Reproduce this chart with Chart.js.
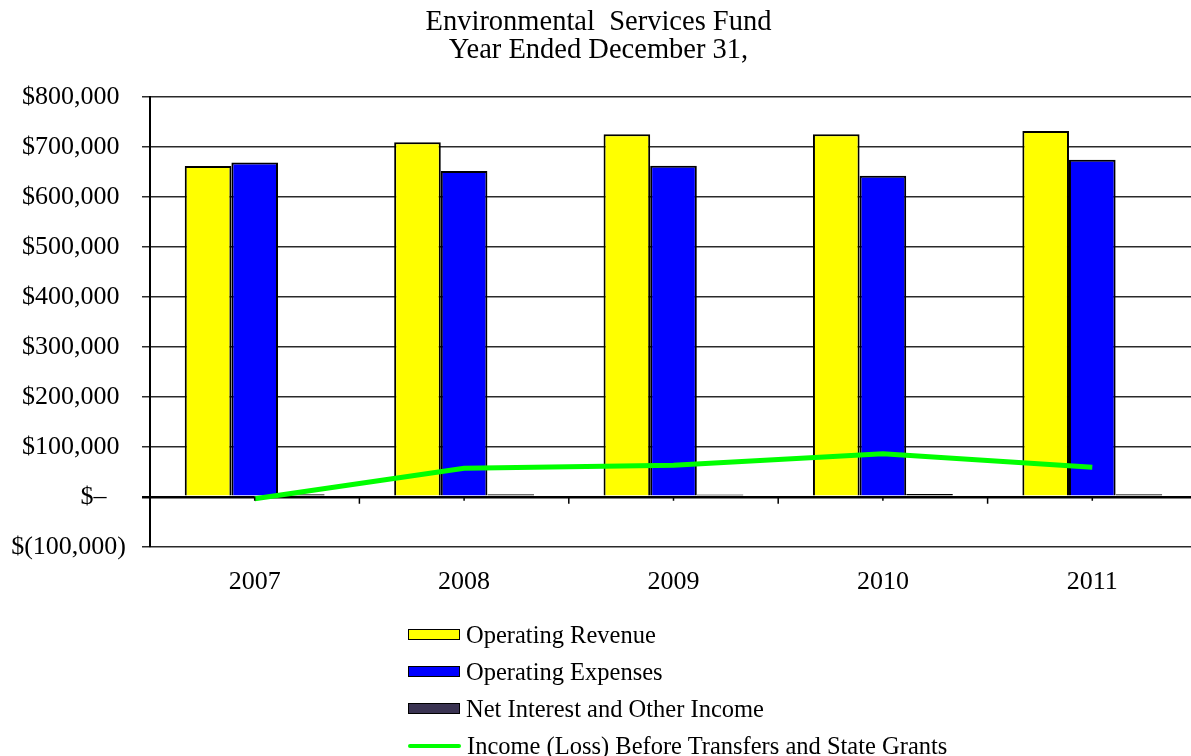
<!DOCTYPE html>
<html>
<head>
<meta charset="utf-8">
<script src="https://cdn.jsdelivr.net/npm/chart.js@4.4.1/dist/chart.umd.min.js"></script>
<style>
  html, body { margin: 0; padding: 0; background: #fff; overflow: hidden; }
  #wrap { position: relative; width: 1191px; height: 756px; overflow: hidden; }
  #fundChart { position: absolute; left: 0; top: 0; }
  #legend { position: absolute; left: 408px; top: 616px; font-family: 'Liberation Serif', 'Times New Roman', serif; font-size: 24.5px; color: #000; }
  .row { height: 37px; display: flex; align-items: center; white-space: nowrap; }
  .swatch { width: 50px; height: 9px; border: 1.5px solid #000; margin-right: 6px; }
  .stroke { width: 53px; height: 4px; border-radius: 2px; margin-right: 6px; }
</style>
</head>
<body>
<div id="wrap">
  <canvas id="fundChart" width="1200" height="756"></canvas>
  <div id="legend"></div>
</div>
<script>
var years = ['2007', '2008', '2009', '2010', '2011'];
var operatingRevenue = [661500, 709300, 725200, 725200, 731800];
var operatingExpenses = [668900, 651500, 662100, 642200, 674000];
var netInterestIncome = [5200, 5000, 4800, 5400, 4900];
var incomeBeforeTransfers = [-4000, 57000, 63000, 86300, 59200];
var yMin = -100000, yMax = 800000, yStep = 100000;

var serif = "'Liberation Serif', 'Times New Roman', serif";
var nbsp = '\u00A0';

function money(v) {
  if (v === 0) return '$\u2013' + nbsp + nbsp + nbsp;
  var s = Math.abs(v).toLocaleString('en-US');
  return v < 0 ? '$(' + s + ')' : '$' + s + nbsp;
}

// small tick marks hanging under the zero line
var zeroTicks = {
  id: 'zeroTicks',
  afterDatasetsDraw: function(chart) {
    var x = chart.scales.x, y = chart.scales.y, ctx = chart.ctx;
    var y0 = y.getPixelForValue(0);
    var half = (x.getPixelForTick(1) - x.getPixelForTick(0)) / 2;
    ctx.save();
    ctx.strokeStyle = '#000';
    ctx.lineWidth = 1.5;
    ctx.beginPath();
    years.forEach(function(_, i) {
      var c = x.getPixelForTick(i);
      ctx.moveTo(c, y0); ctx.lineTo(c, y0 + 4);
      if (i > 0) { ctx.moveTo(c - half, y0); ctx.lineTo(c - half, y0 + 7); }
    });
    ctx.stroke();
    ctx.restore();
  }
};

var chart = new Chart(document.getElementById('fundChart'), {
  type: 'bar',
  data: {
    labels: years,
    datasets: [{
      label: 'Operating Revenue',
      data: operatingRevenue,
      backgroundColor: '#ffff00',
      borderColor: '#000',
      borderWidth: 2,
      order: 1
    }, {
      label: 'Operating Expenses',
      data: operatingExpenses,
      backgroundColor: '#0000ff',
      borderColor: '#000',
      borderWidth: 2,
      order: 1
    }, {
      label: 'Net Interest and Other Income',
      data: netInterestIncome,
      backgroundColor: '#3a3352',
      borderColor: '#000',
      borderWidth: 2,
      borderSkipped: false,
      order: 1
    }, {
      type: 'line',
      label: 'Income (Loss) Before Transfers and State Grants',
      data: incomeBeforeTransfers,
      borderColor: '#00ff00',
      backgroundColor: '#00ff00',
      borderWidth: 5,
      pointRadius: 0,
      tension: 0,
      order: 0
    }]
  },
  options: {
    responsive: false,
    animation: false,
    datasets: { bar: { categoryPercentage: 0.668, barPercentage: 1.0 } },
    layout: { padding: { top: 0, right: 3, bottom: 138, left: 0 } },
    plugins: {
      legend: { display: false },
      tooltip: { enabled: false },
      title: {
        display: true,
        text: ['Environmental  Services Fund', 'Year Ended December 31,'],
        color: '#000',
        font: { family: serif, size: 28.5, weight: 'normal', lineHeight: 0.98 },
        padding: { top: 9, bottom: 32 }
      }
    },
    scales: {
      x: {
        grid: { display: false, drawTicks: false },
        border: { display: false },
        ticks: { color: '#000', padding: 20, font: { family: serif, size: 26 } }
      },
      y: {
        min: yMin,
        max: yMax,
        afterFit: function(scale) { scale.width = 150; },
        ticks: {
          stepSize: yStep,
          color: '#000',
          padding: 16,
          font: { family: serif, size: 26 },
          callback: function(v) { return money(v); }
        },
        grid: {
          tickLength: 8,
          color: function(c) { return c.tick && c.tick.value === 0 ? '#000' : '#2a2a2a'; },
          lineWidth: function(c) { return c.tick && c.tick.value === 0 ? 2.5 : 1.5; }
        },
        border: { display: true, color: '#000', width: 2 }
      }
    }
  },
  plugins: [zeroTicks]
});

// legend rows built from the datasets
var legend = document.getElementById('legend');
chart.data.datasets.forEach(function(ds) {
  var row = document.createElement('div');
  row.className = 'row';
  var sw = document.createElement('div');
  if (ds.type === 'line') {
    sw.className = 'stroke';
    sw.style.background = ds.borderColor;
  } else {
    sw.className = 'swatch';
    sw.style.background = ds.backgroundColor;
  }
  row.appendChild(sw);
  row.appendChild(document.createTextNode(ds.label));
  legend.appendChild(row);
});
</script>
</body>
</html>
